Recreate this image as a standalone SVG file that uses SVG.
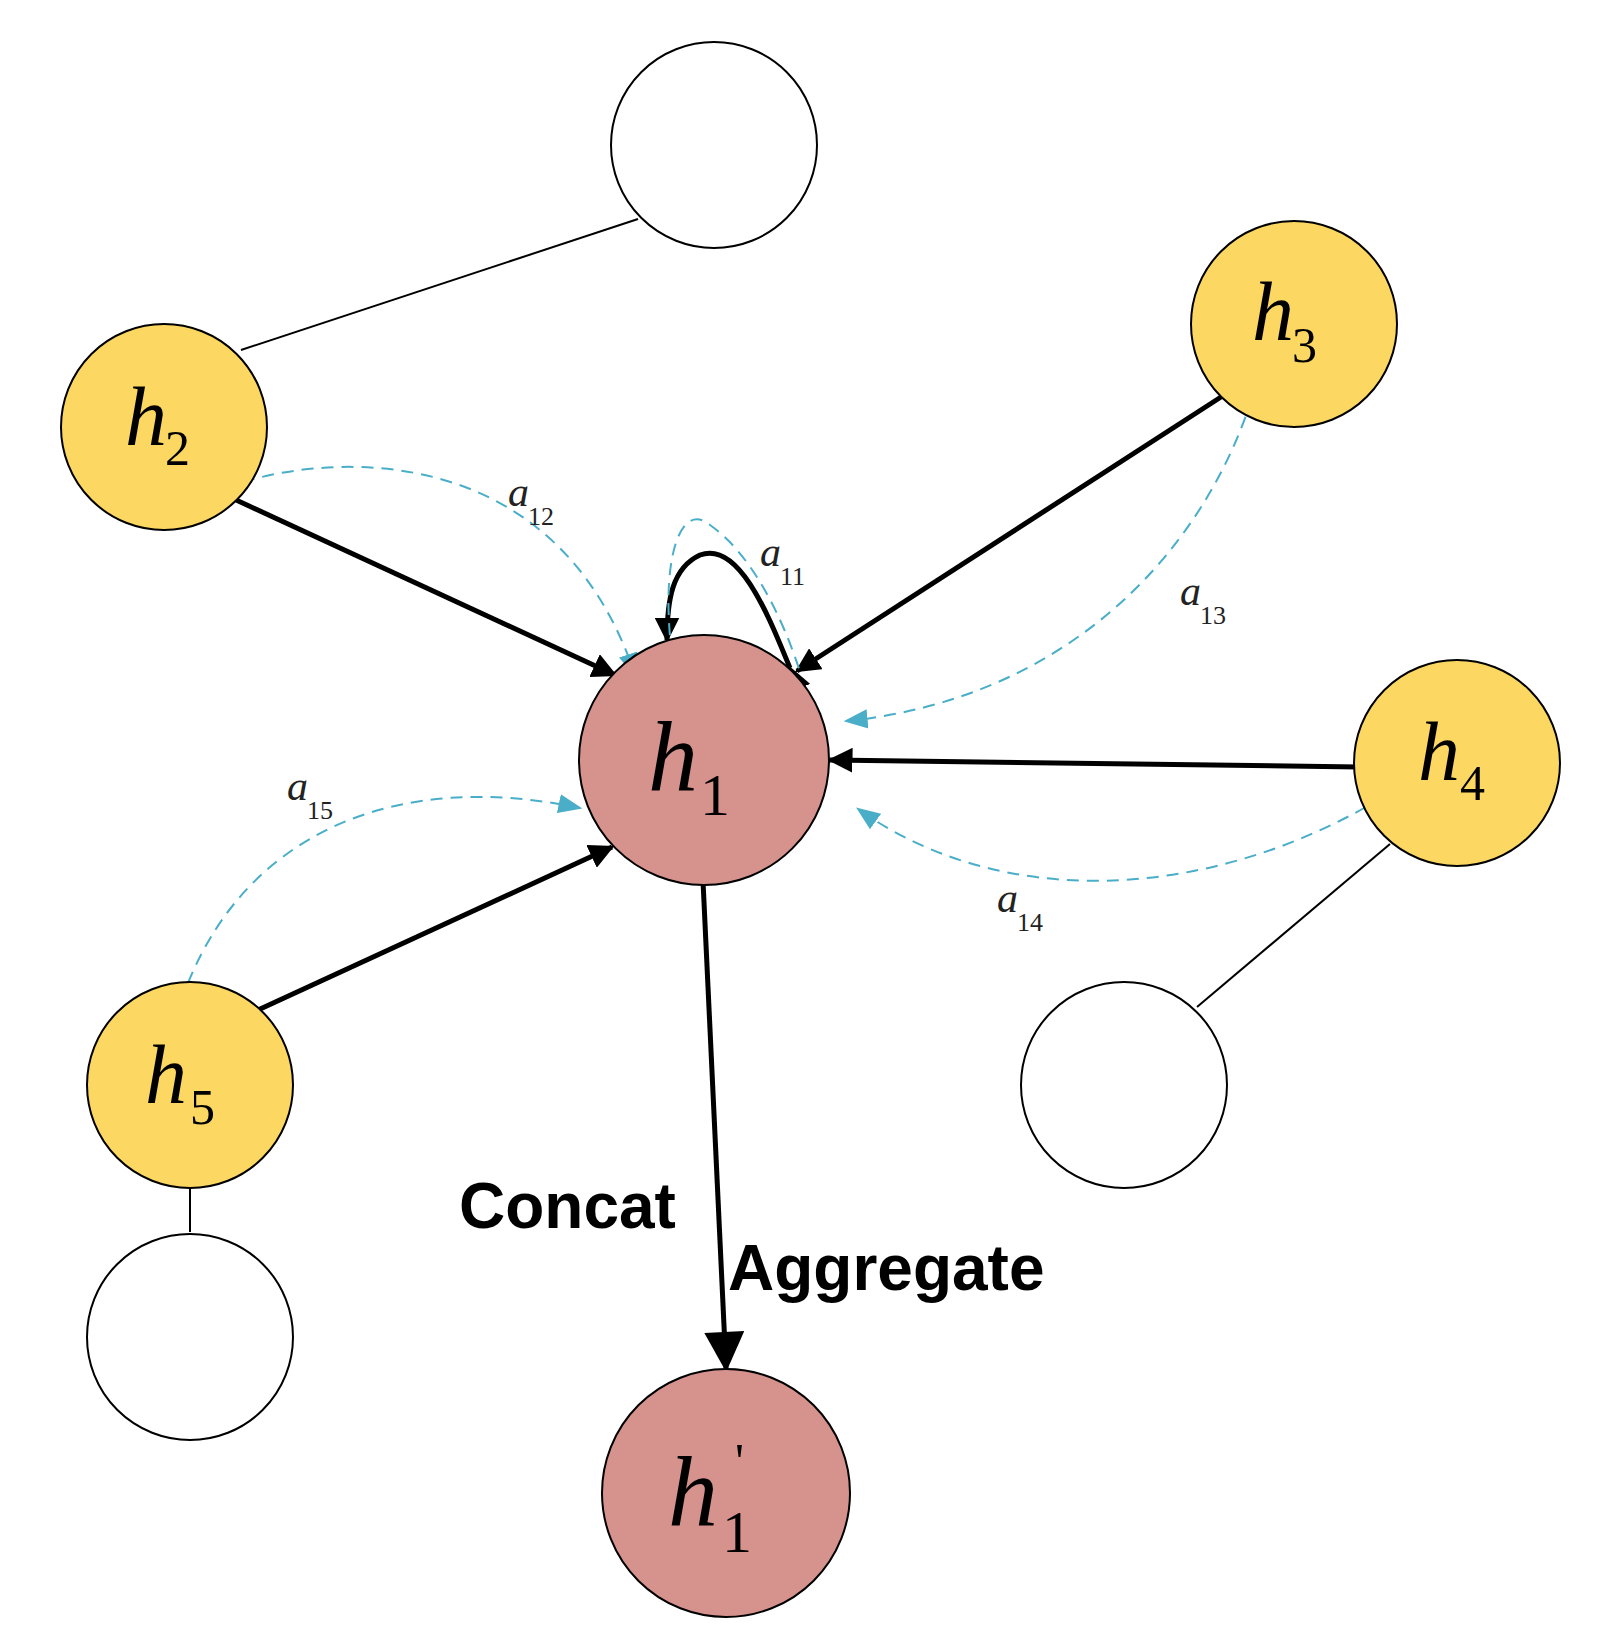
<svg xmlns="http://www.w3.org/2000/svg" width="1615" height="1648" viewBox="0 0 1615 1648">
<style>
.y{fill:#fcd762;stroke:#000;stroke-width:2}
.r{fill:#d6928d;stroke:#000;stroke-width:2}
.w{fill:#fff;stroke:#000;stroke-width:2}
.t{stroke:#000;stroke-width:2;fill:none}
.a{stroke:#000;stroke-width:5;fill:none}
.d{stroke:#4aaec9;stroke-width:2;stroke-dasharray:12 8;fill:none}
.h{font-family:"Liberation Serif",serif;font-style:italic;font-size:84px}
.s{font-family:"Liberation Serif",serif;font-size:50px}
.al{font-family:"Liberation Serif",serif;font-style:italic;font-size:42px;fill:#222}
.as{font-family:"Liberation Serif",serif;font-size:26px;fill:#222}
.lb{font-family:"Liberation Sans",sans-serif;font-weight:bold;font-size:64px}
</style>
<defs>
<marker id="ab" viewBox="0 0 10 10" refX="9" refY="5" markerWidth="5" markerHeight="5" orient="auto" markerUnits="strokeWidth"><path d="M0,0 L10,5 L0,10 Z"/></marker>
<marker id="abig" viewBox="0 0 10 10" refX="9" refY="5" markerWidth="9" markerHeight="8" orient="auto" markerUnits="strokeWidth"><path d="M0,0 L10,5 L0,10 Z"/></marker>
<marker id="bb" viewBox="0 0 10 10" refX="9" refY="5" markerWidth="12" markerHeight="12" orient="auto" markerUnits="strokeWidth"><path d="M0,1 L10,5 L0,9 Z" fill="#4aaec9"/></marker>
</defs>
<g id="connectors">
<line class="t" x1="638" y1="219" x2="241" y2="350"/>
<line class="t" x1="1390" y1="844" x2="1197" y2="1007"/>
<line class="t" x1="190" y1="1187" x2="190" y2="1232"/>
<line class="a" x1="234" y1="499" x2="615" y2="675" marker-end="url(#ab)"/>
<line class="a" x1="1221" y1="397" x2="797" y2="671" marker-end="url(#ab)"/>
<line class="a" x1="1359" y1="767" x2="830" y2="760" marker-end="url(#ab)"/>
<line class="a" x1="258" y1="1010" x2="612" y2="847" marker-end="url(#ab)"/>
<line class="a" x1="703" y1="881" x2="726" y2="1368" marker-end="url(#abig)"/>
<path class="a" d="M790,668 C770,620 740,540 700,555 C672,568 667,600 667,640" marker-start="url(#ab)" marker-end="url(#ab)"/>
<path class="d" d="M243,482 C350,450 560,450 635,675" marker-end="url(#bb)"/>
<path class="d" d="M672,655 C660,560 680,500 710,525 C760,560 790,640 800,672"/>
<path class="d" d="M1252,398 C1200,560 1060,700 846,721" marker-end="url(#bb)"/>
<path class="d" d="M1366,807 C1200,900 1000,910 858,809" marker-end="url(#bb)"/>
<path class="d" d="M188,983 C250,830 400,770 580,808" marker-end="url(#bb)"/>
</g>
<g id="top"><circle class="w" cx="714" cy="145" r="103"/></g>
<g id="empty_right"><circle class="w" cx="1124" cy="1085" r="103"/></g>
<g id="empty_left"><circle class="w" cx="190" cy="1337" r="103"/></g>
<g id="h2"><circle class="y" cx="164" cy="427" r="103"/><text class="h" x="125" y="445">h</text><text class="s" x="165" y="465">2</text></g>
<g id="h3"><circle class="y" cx="1294" cy="324" r="103"/><text class="h" x="1252" y="340">h</text><text class="s" x="1292" y="362">3</text></g>
<g id="h4"><circle class="y" cx="1457" cy="763" r="103"/><text class="h" x="1418" y="780">h</text><text class="s" x="1460" y="800">4</text></g>
<g id="h5"><circle class="y" cx="190" cy="1085" r="103"/><text class="h" x="145" y="1103">h</text><text class="s" x="190" y="1124">5</text></g>
<g id="h1"><circle class="r" cx="704" cy="760" r="125"/><text class="h" x="648" y="790" style="font-size:100px">h</text><text class="s" x="700" y="815" style="font-size:60px">1</text></g>
<g id="h1p"><circle class="r" cx="726" cy="1493" r="124"/><text class="h" x="668" y="1525" style="font-size:100px">h</text><text class="s" x="722" y="1552" style="font-size:60px">1</text><text class="s" x="735" y="1478">'</text></g>
<g id="labels">
<text class="al" x="508" y="506">a</text><text class="as" x="528" y="525">12</text>
<text class="al" x="760" y="566">a</text><text class="as" x="780" y="585">11</text>
<text class="al" x="1180" y="605">a</text><text class="as" x="1200" y="624">13</text>
<text class="al" x="997" y="912">a</text><text class="as" x="1017" y="931">14</text>
<text class="al" x="287" y="800">a</text><text class="as" x="307" y="819">15</text>
<text class="lb" x="459" y="1228">Concat</text>
<text class="lb" x="728" y="1290">Aggregate</text>
</g>
</svg>
